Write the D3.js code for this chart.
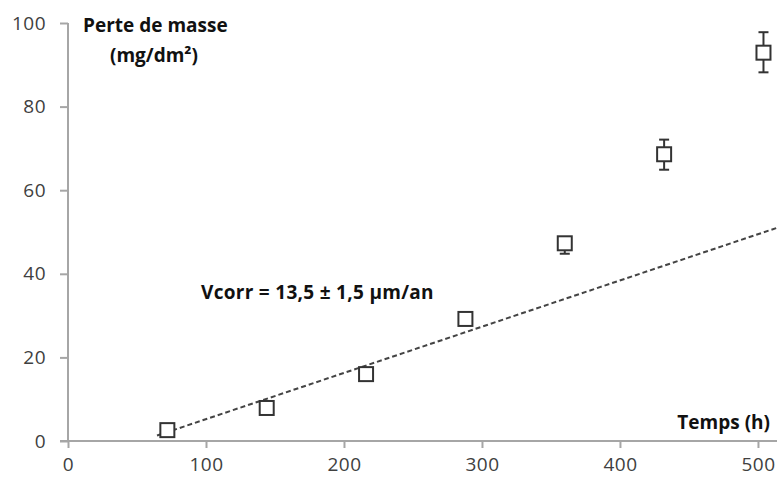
<!DOCTYPE html>
<html><head><meta charset="utf-8">
<script src="https://cdn.jsdelivr.net/npm/d3@7"></script>
<style>body{margin:0;background:#fff}svg{display:block}text{font-family:"Open Sans",sans-serif}</style>
</head><body><div id="chart"></div>
<script>
const timeHours = [72, 144, 216, 288, 360, 432, 504];
const massLoss = [2.6, 7.9, 16.0, 29.2, 47.3, 68.6, 92.9];
const errLow = [0, 0, 0, 0, 2.5, 3.7, 4.7];
const errHigh = [0, 0, 0, 0, 1.2, 3.5, 4.9];
const trendX = [64.5, 513.8];
const trendY = [1.3, 51.0];
const xTicks = [0, 100, 200, 300, 400, 500];
const yTicks = [0, 20, 40, 60, 80, 100];
const yTitle = ["Perte de masse", "(mg/dm²)"];
const xTitle = "Temps (h)";
const annotation = "Vcorr = 13,5 ± 1,5 µm/an";

const W = 777, H = 477;
const svg = d3.select("#chart").append("svg").attr("width", W).attr("height", H);
const x = d3.scaleLinear().domain([0, 513.8]).range([68, 777]);
const y = d3.scaleLinear().domain([0, 100]).range([441, 23]);
const axisColor = "#a6a6a6", textColor = "#404040", markColor = "#333";

const gy = svg.append("g").attr("transform", "translate(68,0)")
  .call(d3.axisLeft(y).tickValues(yTicks).tickSize(8).tickPadding(14).tickFormat(d3.format("d")));
const gx = svg.append("g").attr("transform", "translate(0,441)")
  .call(d3.axisBottom(x).tickValues(xTicks).tickSize(7).tickPadding(10).tickFormat(d3.format("d")));
[gx, gy].forEach(g => {
  g.select(".domain").attr("stroke", axisColor).attr("stroke-width", 2);
  g.selectAll(".tick line").attr("stroke", axisColor).attr("stroke-width", 2);
  g.selectAll(".tick text").attr("fill", textColor).attr("font-size", 19)
    .attr("letter-spacing", "0.5px").attr("font-family", "'Open Sans', sans-serif");
});
gy.select(".domain").attr("d", "M0,441V23");
gx.select(".domain").attr("d", "M60,0H777");

svg.append("line")
  .attr("x1", x(trendX[0])).attr("y1", y(trendY[0]))
  .attr("x2", x(trendX[1])).attr("y2", y(trendY[1]))
  .attr("stroke", "#444").attr("stroke-width", 2).attr("stroke-dasharray", "5,3");

const pts = timeHours.map((t, i) => ({t, v: massLoss[i], lo: errLow[i], hi: errHigh[i]}));
const eb = svg.append("g").attr("stroke", markColor).attr("stroke-width", 2);
pts.filter(d => d.lo > 0 || d.hi > 0).forEach(d => {
  eb.append("line").attr("x1", x(d.t)).attr("x2", x(d.t)).attr("y1", y(d.v - d.lo)).attr("y2", y(d.v + d.hi));
  [d.v - d.lo, d.v + d.hi].forEach(v => eb.append("line")
    .attr("x1", x(d.t) - 5).attr("x2", x(d.t) + 5).attr("y1", y(v)).attr("y2", y(v)));
});
const s = 14;
svg.append("g").selectAll("rect").data(pts).join("rect")
  .attr("x", d => x(d.t) - s / 2).attr("y", d => y(d.v) - s / 2)
  .attr("width", s).attr("height", s)
  .attr("fill", "#fff").attr("stroke", markColor).attr("stroke-width", 2);

const tt = svg.append("text").attr("font-weight", "bold").attr("font-size", 19).attr("fill", "#111");
tt.append("tspan").attr("x", 83).attr("y", 32).text(yTitle[0]);
tt.append("tspan").attr("x", 154).attr("y", 62).attr("text-anchor", "middle").text(yTitle[1]);
svg.append("text").attr("x", 770).attr("y", 429).attr("text-anchor", "end")
  .attr("font-weight", "bold").attr("font-size", 19).attr("fill", "#111").text(xTitle);
svg.append("text").attr("x", 201).attr("y", 299)
  .attr("font-weight", "bold").attr("font-size", 19).attr("letter-spacing", "0.3px").attr("fill", "#111").text(annotation);
</script></body></html>
